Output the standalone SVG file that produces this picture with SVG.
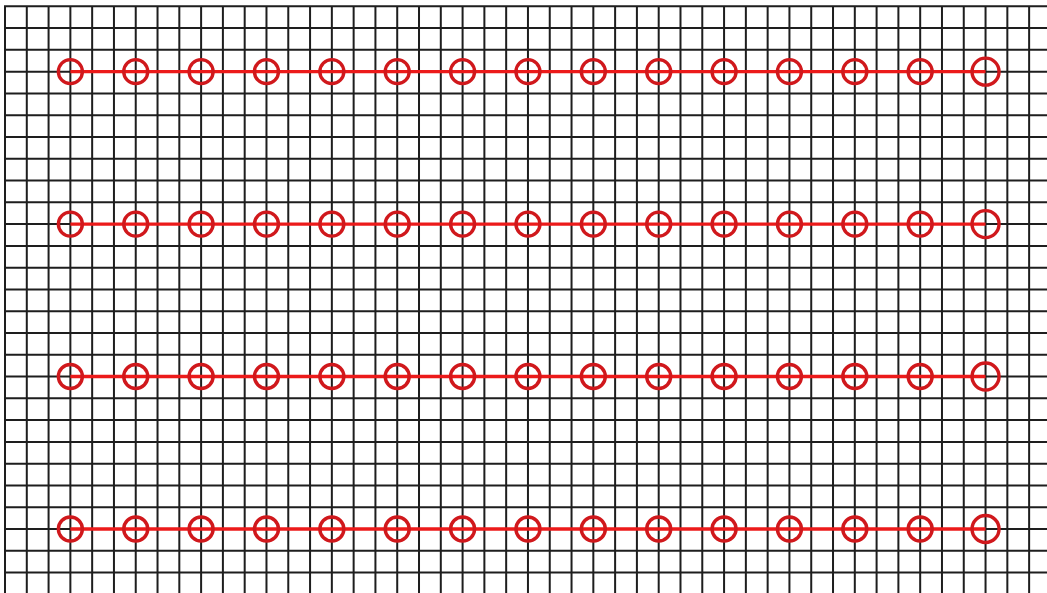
<svg xmlns="http://www.w3.org/2000/svg" width="1047" height="593" viewBox="0 0 1047 593">
<style>
.grid{stroke:#1e1e1e;stroke-width:2;fill:none}
.conn{stroke:#ec1a1a;stroke-width:3.4;fill:none}
.c{fill:none;stroke:#d0181c;stroke-width:3.4}
.cl{fill:none;stroke:#d0181c;stroke-width:3.4}
</style>
<rect width="1047" height="593" fill="#ffffff"/>
<g id="grid" class="grid">
<path d="M5,6.3V593M26.79,6.3V593M48.58,6.3V593M70.37,6.3V593M92.16,6.3V593M113.95,6.3V593M135.74,6.3V593M157.53,6.3V593M179.32,6.3V593M201.11,6.3V593M222.9,6.3V593M244.69,6.3V593M266.48,6.3V593M288.27,6.3V593M310.06,6.3V593M331.85,6.3V593M353.64,6.3V593M375.43,6.3V593M397.22,6.3V593M419.01,6.3V593M440.8,6.3V593M462.59,6.3V593M484.38,6.3V593M506.17,6.3V593M527.96,6.3V593M549.75,6.3V593M571.54,6.3V593M593.33,6.3V593M615.12,6.3V593M636.91,6.3V593M658.7,6.3V593M680.49,6.3V593M702.28,6.3V593M724.07,6.3V593M745.86,6.3V593M767.65,6.3V593M789.44,6.3V593M811.23,6.3V593M833.02,6.3V593M854.81,6.3V593M876.6,6.3V593M898.39,6.3V593M920.18,6.3V593M941.97,6.3V593M963.76,6.3V593M985.55,6.3V593M1007.34,6.3V593M1029.13,6.3V593"/>
<path d="M4,6.3H1047M4,28.08H1047M4,49.86H1047M4,71.64H1047M4,93.42H1047M4,115.2H1047M4,136.98H1047M4,158.76H1047M4,180.54H1047M4,202.32H1047M4,224.1H1047M4,245.88H1047M4,267.66H1047M4,289.44H1047M4,311.22H1047M4,333H1047M4,354.78H1047M4,376.56H1047M4,398.34H1047M4,420.12H1047M4,441.9H1047M4,463.68H1047M4,485.46H1047M4,507.24H1047M4,529.02H1047M4,550.8H1047M4,572.58H1047"/>
</g>
<g id="connectors" class="conn">
<line x1="70.37" y1="71.64" x2="985.55" y2="71.64"/>
<line x1="70.37" y1="224.1" x2="985.55" y2="224.1"/>
<line x1="70.37" y1="376.56" x2="985.55" y2="376.56"/>
<line x1="70.37" y1="529.02" x2="985.55" y2="529.02"/>
</g>
<defs>
<circle id="dot" r="12" class="c"/>
<circle id="dotL" r="13.5" class="cl"/>
</defs>
<g id="row1">
<g id="n1-1"><use href="#dot" x="70.37" y="71.64"/></g>
<g id="n1-2"><use href="#dot" x="135.74" y="71.64"/></g>
<g id="n1-3"><use href="#dot" x="201.11" y="71.64"/></g>
<g id="n1-4"><use href="#dot" x="266.48" y="71.64"/></g>
<g id="n1-5"><use href="#dot" x="331.85" y="71.64"/></g>
<g id="n1-6"><use href="#dot" x="397.22" y="71.64"/></g>
<g id="n1-7"><use href="#dot" x="462.59" y="71.64"/></g>
<g id="n1-8"><use href="#dot" x="527.96" y="71.64"/></g>
<g id="n1-9"><use href="#dot" x="593.33" y="71.64"/></g>
<g id="n1-10"><use href="#dot" x="658.7" y="71.64"/></g>
<g id="n1-11"><use href="#dot" x="724.07" y="71.64"/></g>
<g id="n1-12"><use href="#dot" x="789.44" y="71.64"/></g>
<g id="n1-13"><use href="#dot" x="854.81" y="71.64"/></g>
<g id="n1-14"><use href="#dot" x="920.18" y="71.64"/></g>
<g id="n1-15"><use href="#dotL" x="985.55" y="71.64"/></g>
</g>
<g id="row2">
<g id="n2-1"><use href="#dot" x="70.37" y="224.1"/></g>
<g id="n2-2"><use href="#dot" x="135.74" y="224.1"/></g>
<g id="n2-3"><use href="#dot" x="201.11" y="224.1"/></g>
<g id="n2-4"><use href="#dot" x="266.48" y="224.1"/></g>
<g id="n2-5"><use href="#dot" x="331.85" y="224.1"/></g>
<g id="n2-6"><use href="#dot" x="397.22" y="224.1"/></g>
<g id="n2-7"><use href="#dot" x="462.59" y="224.1"/></g>
<g id="n2-8"><use href="#dot" x="527.96" y="224.1"/></g>
<g id="n2-9"><use href="#dot" x="593.33" y="224.1"/></g>
<g id="n2-10"><use href="#dot" x="658.7" y="224.1"/></g>
<g id="n2-11"><use href="#dot" x="724.07" y="224.1"/></g>
<g id="n2-12"><use href="#dot" x="789.44" y="224.1"/></g>
<g id="n2-13"><use href="#dot" x="854.81" y="224.1"/></g>
<g id="n2-14"><use href="#dot" x="920.18" y="224.1"/></g>
<g id="n2-15"><use href="#dotL" x="985.55" y="224.1"/></g>
</g>
<g id="row3">
<g id="n3-1"><use href="#dot" x="70.37" y="376.56"/></g>
<g id="n3-2"><use href="#dot" x="135.74" y="376.56"/></g>
<g id="n3-3"><use href="#dot" x="201.11" y="376.56"/></g>
<g id="n3-4"><use href="#dot" x="266.48" y="376.56"/></g>
<g id="n3-5"><use href="#dot" x="331.85" y="376.56"/></g>
<g id="n3-6"><use href="#dot" x="397.22" y="376.56"/></g>
<g id="n3-7"><use href="#dot" x="462.59" y="376.56"/></g>
<g id="n3-8"><use href="#dot" x="527.96" y="376.56"/></g>
<g id="n3-9"><use href="#dot" x="593.33" y="376.56"/></g>
<g id="n3-10"><use href="#dot" x="658.7" y="376.56"/></g>
<g id="n3-11"><use href="#dot" x="724.07" y="376.56"/></g>
<g id="n3-12"><use href="#dot" x="789.44" y="376.56"/></g>
<g id="n3-13"><use href="#dot" x="854.81" y="376.56"/></g>
<g id="n3-14"><use href="#dot" x="920.18" y="376.56"/></g>
<g id="n3-15"><use href="#dotL" x="985.55" y="376.56"/></g>
</g>
<g id="row4">
<g id="n4-1"><use href="#dot" x="70.37" y="529.02"/></g>
<g id="n4-2"><use href="#dot" x="135.74" y="529.02"/></g>
<g id="n4-3"><use href="#dot" x="201.11" y="529.02"/></g>
<g id="n4-4"><use href="#dot" x="266.48" y="529.02"/></g>
<g id="n4-5"><use href="#dot" x="331.85" y="529.02"/></g>
<g id="n4-6"><use href="#dot" x="397.22" y="529.02"/></g>
<g id="n4-7"><use href="#dot" x="462.59" y="529.02"/></g>
<g id="n4-8"><use href="#dot" x="527.96" y="529.02"/></g>
<g id="n4-9"><use href="#dot" x="593.33" y="529.02"/></g>
<g id="n4-10"><use href="#dot" x="658.7" y="529.02"/></g>
<g id="n4-11"><use href="#dot" x="724.07" y="529.02"/></g>
<g id="n4-12"><use href="#dot" x="789.44" y="529.02"/></g>
<g id="n4-13"><use href="#dot" x="854.81" y="529.02"/></g>
<g id="n4-14"><use href="#dot" x="920.18" y="529.02"/></g>
<g id="n4-15"><use href="#dotL" x="985.55" y="529.02"/></g>
</g>
</svg>
